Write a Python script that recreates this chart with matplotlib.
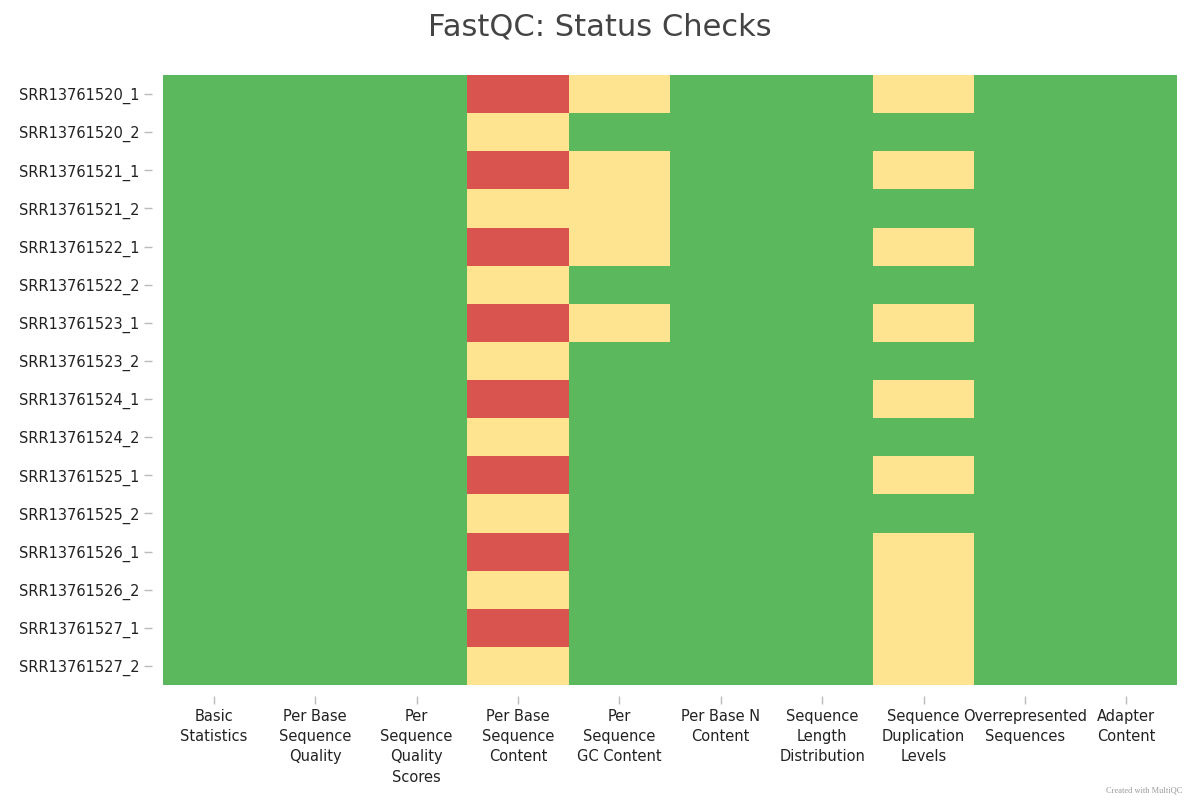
import matplotlib.pyplot as plt
import numpy as np
from matplotlib.colors import ListedColormap, BoundaryNorm

samples = [
    "SRR13761520_1", "SRR13761520_2", "SRR13761521_1", "SRR13761521_2",
    "SRR13761522_1", "SRR13761522_2", "SRR13761523_1", "SRR13761523_2",
    "SRR13761524_1", "SRR13761524_2", "SRR13761525_1", "SRR13761525_2",
    "SRR13761526_1", "SRR13761526_2", "SRR13761527_1", "SRR13761527_2",
]
checks = [
    "Basic\nStatistics", "Per Base\nSequence\nQuality", "Per\nSequence\nQuality\nScores",
    "Per Base\nSequence\nContent", "Per\nSequence\nGC Content", "Per Base N\nContent",
    "Sequence\nLength\nDistribution", "Sequence\nDuplication\nLevels",
    "Overrepresented\nSequences", "Adapter\nContent",
]

# 0 = fail, 1 = warn, 2 = pass ; one list per sample
status = [
    [2, 2, 2, 0, 1, 2, 2, 1, 2, 2],
    [2, 2, 2, 1, 2, 2, 2, 2, 2, 2],
    [2, 2, 2, 0, 1, 2, 2, 1, 2, 2],
    [2, 2, 2, 1, 1, 2, 2, 2, 2, 2],
    [2, 2, 2, 0, 1, 2, 2, 1, 2, 2],
    [2, 2, 2, 1, 2, 2, 2, 2, 2, 2],
    [2, 2, 2, 0, 1, 2, 2, 1, 2, 2],
    [2, 2, 2, 1, 2, 2, 2, 2, 2, 2],
    [2, 2, 2, 0, 2, 2, 2, 1, 2, 2],
    [2, 2, 2, 1, 2, 2, 2, 2, 2, 2],
    [2, 2, 2, 0, 2, 2, 2, 1, 2, 2],
    [2, 2, 2, 1, 2, 2, 2, 2, 2, 2],
    [2, 2, 2, 0, 2, 2, 2, 1, 2, 2],
    [2, 2, 2, 1, 2, 2, 2, 1, 2, 2],
    [2, 2, 2, 0, 2, 2, 2, 1, 2, 2],
    [2, 2, 2, 1, 2, 2, 2, 1, 2, 2],
]

cmap = ListedColormap(["#d9534f", "#fee391", "#5cb85c"])
norm = BoundaryNorm([-0.5, 0.5, 1.5, 2.5], cmap.N)

fig = plt.figure(figsize=(12, 8), dpi=100)
ax = fig.add_axes([163 / 1200, 1 - 685 / 800, (1177 - 163) / 1200, (685 - 75) / 800])

ax.pcolormesh(np.array(status), cmap=cmap, norm=norm)
ax.set_xlim(0, len(checks))
ax.set_ylim(len(samples), 0)

ax.set_xticks(np.arange(len(checks)) + 0.5)
ax.set_xticklabels(checks, ha="center", va="top")
ax.set_yticks(np.arange(len(samples)) + 0.5)
ax.set_yticklabels(samples)

for s in ax.spines.values():
    s.set_visible(False)
ax.spines["left"].set_position(("outward", 8))
ax.spines["bottom"].set_position(("outward", 8))
ax.tick_params(axis="both", length=6, width=1, color="#bbbbbb",
               labelsize=10.5, labelcolor="#222222", pad=3)
for lab in ax.get_xticklabels():
    lab.set_linespacing(1.45)

fig.text(0.5, 1 - 27 / 800, "FastQC: Status Checks", ha="center", va="center",
         fontsize=22, color="#444444")
fig.text(1182 / 1200, 1 - 790 / 800, "Created with MultiQC", ha="right", va="center",
         fontsize=6, color="#999999", family="Liberation Serif")

fig.savefig("out.png", dpi=100)
plt.close()
